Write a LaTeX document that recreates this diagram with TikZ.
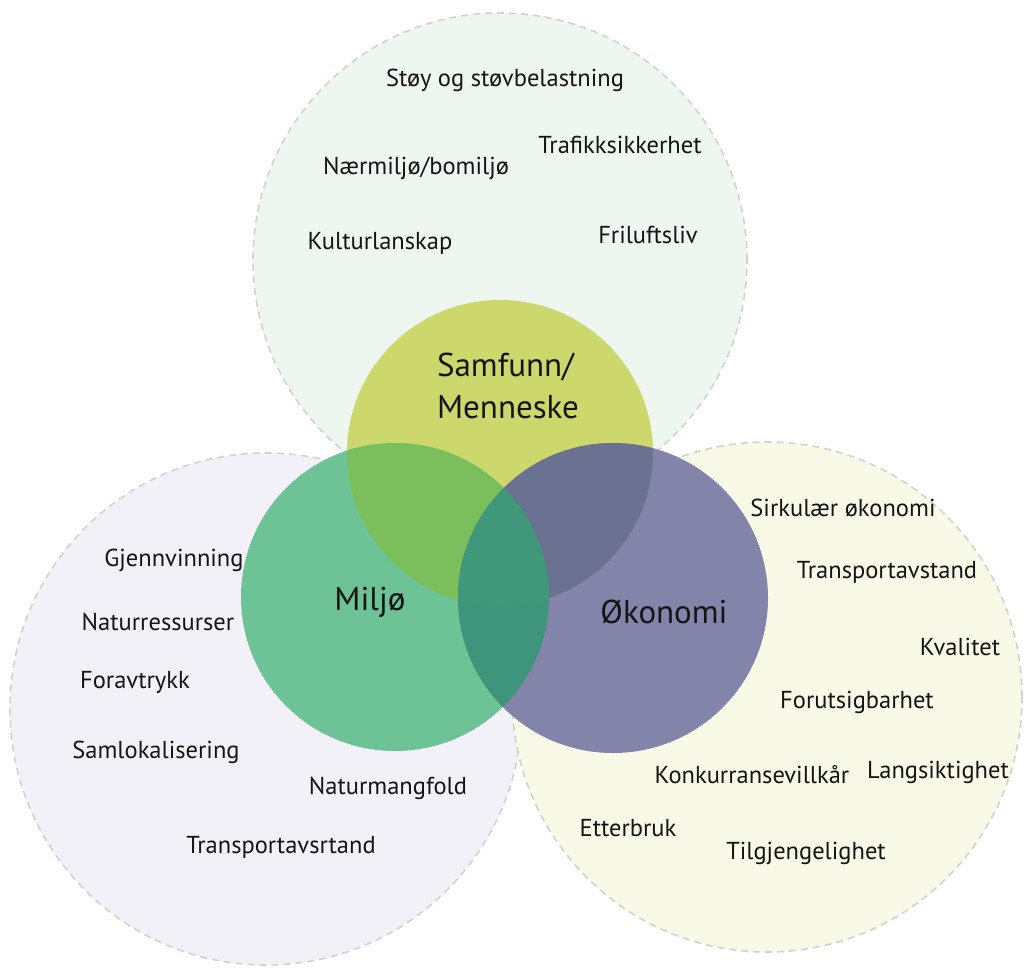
\documentclass[tikz,border=0pt]{standalone}
\usepackage{fontspec}
\setmainfont{PT Sans}
\definecolor{bgTop}{HTML}{EDF6EF}
\definecolor{bgLeft}{HTML}{F1F1F7}
\definecolor{bgRight}{HTML}{F8F9E6}
\definecolor{rimGray}{HTML}{D2D2D2}
\definecolor{cS}{HTML}{CDD86C}
\definecolor{cM}{HTML}{6EC396}
\definecolor{cO}{HTML}{8284AA}
\definecolor{cSM}{HTML}{7ABF5C}
\definecolor{cSO}{HTML}{6B7190}
\definecolor{cMO}{HTML}{3E957B}
\definecolor{cSMO}{HTML}{41977A}
\definecolor{txt}{HTML}{151515}
\tikzset{
  bigcircle/.style={draw=rimGray, line width=1.6pt, dash pattern=on 7pt off 5pt},
  item/.style={font=\fontsize{24.5}{28}\selectfont, text=txt, inner sep=0pt, anchor=center},
  core/.style={font=\fontsize{33}{42}\selectfont, text=txt, inner sep=0pt, anchor=center, align=left},
}
\begin{document}
\begin{tikzpicture}[x=1pt,y=-1pt]
\useasboundingbox (0,0) rectangle (1027,969);
\coordinate (Ctop) at (500,260);
\coordinate (Cleft) at (266,709);
\coordinate (Cright) at (767,697);
\coordinate (S) at (500,453);
\coordinate (M) at (395,597);
\coordinate (O) at (613,598);
% outer circles
\fill[bgTop] (Ctop) circle[radius=247pt];
\draw[bigcircle] (Ctop) circle[radius=247pt];
\fill[bgLeft] (Cleft) circle[radius=256pt];
\draw[bigcircle] (Cleft) circle[radius=256pt];
\fill[bgRight] (Cright) circle[radius=255pt];
\draw[bigcircle] (Cright) circle[radius=255pt];
% inner circles
\fill[cS] (S) circle[radius=153pt];
\fill[cM] (M) circle[radius=154pt];
\fill[cO] (O) circle[radius=155pt];
\begin{scope}
  \clip (M) circle[radius=154pt];
  \fill[cSM] (S) circle[radius=153pt];
\end{scope}
\begin{scope}
  \clip (O) circle[radius=155pt];
  \fill[cSO] (S) circle[radius=153pt];
\end{scope}
\begin{scope}
  \clip (O) circle[radius=155pt];
  \fill[cMO] (M) circle[radius=154pt];
\end{scope}
\begin{scope}
  \clip (O) circle[radius=155pt];
  \clip (M) circle[radius=154pt];
  \fill[cSMO] (S) circle[radius=153pt];
\end{scope}
% core labels
\node[core] (lS) at (508,386) {Samfunn/\\Menneske};
\node[core] (lM) at (370,602) {Miljø};
\node[core] (lO) at (664,612) {Økonomi};
% top items
\node[item] (t1) at (505,80) {Støy og støvbelastning};
\node[item] (t2) at (620,145) {Trafikksikkerhet};
\node[item] (t3) at (416,168) {Nærmiljø/bomiljø};
\node[item] (t4) at (380,243) {Kulturlanskap};
\node[item] (t5) at (648,235) {Friluftsliv};
% left items
\node[item] (l1) at (174,560) {Gjennvinning};
\node[item] (l2) at (158,622) {Naturressurser};
\node[item] (l3) at (135,682) {Foravtrykk};
\node[item] (l4) at (156,752) {Samlokalisering};
\node[item] (l5) at (388,788) {Naturmangfold};
\node[item] (l6) at (281,847) {Transportavsrtand};
% right items
\node[item] (r1) at (843,508) {Sirkulær økonomi};
\node[item] (r2) at (887,572) {Transportavstand};
\node[item] (r3) at (960,647) {Kvalitet};
\node[item] (r4) at (857,702) {Forutsigbarhet};
\node[item] (r5) at (752,775) {Konkurransevillkår};
\node[item] (r6) at (938,772) {Langsiktighet};
\node[item] (r7) at (628,828) {Etterbruk};
\node[item] (r8) at (806,853) {Tilgjengelighet};
\end{tikzpicture}
\end{document}
